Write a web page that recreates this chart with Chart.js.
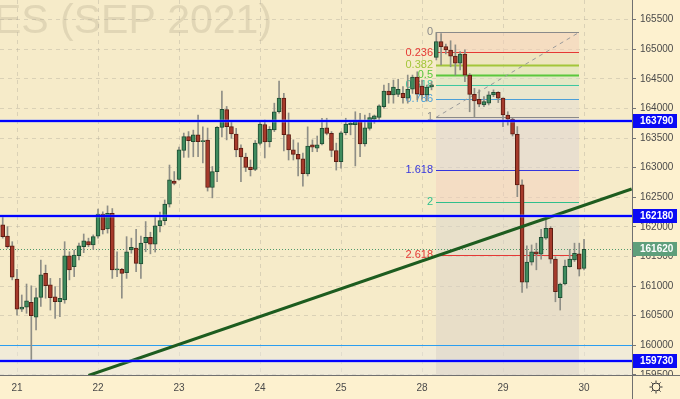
<!DOCTYPE html>
<html>
<head>
<meta charset="utf-8">
<script src="https://cdn.jsdelivr.net/npm/chart.js@4.4.0/dist/chart.umd.min.js"></script>
<style>
  html, body { margin: 0; padding: 0; background: #fdf1cf; }
  canvas { display: block; }
</style>
</head>
<body>
<canvas id="chart" width="680" height="399"></canvas>
<script>
// bar index of the first candle (day 21 starts at index 0, 17 bars per day)
const firstBar = -3;

const opens = [162035,161845,161680,161120,160610,160645,160725,160475,160810,161215,161020,160820,160735,160765,161510,161330,161515,161665,161750,161695,
  161845,162215,161965,162230,161275,161285,161225,161610,161640,161375,161735,161825,161710,162020,162105,162385,162775,162800,163290,163525,
  163440,163555,163440,163465,162665,162935,163680,163980,163695,163570,163330,163180,163010,162970,163410,163730,163440,163640,163945,164175,
  163560,163300,163225,163150,162895,163385,163330,163400,163675,163580,163290,163100,163590,163725,163725,163805,163400,163665,163820,163850,
  164030,164295,164230,164240,164255,164175,164325,164530,164380,164230,164365,164865,165130,165045,164985,164885,164765,164920,164565,164240,
  164155,164060,164090,164230,164275,164175,163890,163820,163565,162710,161065,161405,161580,161540,161810,161975,161455,160805,161035,161330,
  161440,161545,161300];
const highs = [162175,162005,161750,161285,160850,161035,161005,160965,161440,161355,161130,160990,161130,161750,161580,161610,161725,161880,161810,161865,
  162300,162255,162355,162310,161580,161300,161835,161810,161960,161845,162090,161910,162170,162250,162455,163045,162935,163350,163585,163610,
  163635,163890,163690,163670,163020,163695,164295,164035,163800,163665,163385,163245,163130,163460,163790,163805,163695,164090,164465,164255,
  163925,163470,163420,163245,163690,163470,163535,163835,163835,163610,163415,163610,163835,163790,163945,163920,163890,163920,163890,164060,
  164395,164425,164480,164495,164370,164565,164565,164620,164480,164395,164455,165285,165265,165090,165145,165075,164960,164990,164590,164340,
  164315,164200,164285,164315,164285,164180,163945,163850,163695,162795,161680,161695,161725,161960,162145,162005,161495,161050,161440,161620,
  161725,161725,161790];
const lows = [161810,161640,161105,160515,160570,160540,159740,160260,160655,160795,160595,160455,160485,160710,161105,161160,161440,161565,161665,161620,
  161810,161880,161895,161130,161160,160795,161130,161555,161245,161130,161580,161545,161575,161915,162035,162335,162710,162790,163175,163175,
  163185,163185,163080,162605,162490,162765,163520,163470,163495,163185,162765,162935,162860,162950,163385,163165,163350,163610,163920,163285,
  163130,163130,162860,162690,162860,163270,163270,163385,163555,163185,162960,162990,163555,163555,163030,163185,163365,163635,163750,163780,
  164005,164090,164090,164200,164090,164090,164255,164145,164160,164125,164315,164820,164735,164920,164705,164565,164650,164455,163945,163850,
  164030,164030,164060,164200,164100,163695,163720,163535,162510,160895,160965,161355,161275,161455,161790,161385,160735,160595,161020,161320,
  161415,161170,161275];
const closes = [161835,161665,161150,160610,160645,160750,160500,160805,161190,161005,160805,160735,160795,161510,161275,161525,161680,161765,161695,161835,
  162215,161950,162230,161275,161285,161215,161580,161655,161385,161725,161825,161710,162020,162105,162385,162795,162735,163300,163525,163455,
  163555,163440,163450,162665,162935,163680,163985,163695,163570,163300,163180,163005,162965,163415,163735,163435,163650,163945,164175,163560,
  163300,163225,163145,162900,163365,163345,163385,163665,163580,163290,163100,163590,163735,163750,163805,163400,163675,163845,163875,164045,
  164295,164230,164360,164325,164185,164325,164530,164245,164230,164360,164400,165130,165045,164990,164885,164765,164920,164565,164240,164130,
  164075,164115,164230,164275,164175,163890,163820,163565,162710,161065,161405,161580,161540,161825,161975,161455,160905,161035,161340,161455,
  161555,161285,161620];

const dayIdx = [0, 17, 34, 51, 68, 85, 102, 119];
const dayLabels = ['21', '22', '23', '24', '25', '28', '29', '30'];
const priceTicks = [159500, 160000, 160500, 161000, 161500, 162000, 162500, 163000, 163500, 164000, 164500, 165000, 165500];

const levelLines = [163790, 162180, 159730];
const lastPrice = 161620;
const zoneTop = 160000;

// trend line anchors [bar index, price]
const trendStart = [15, 159490];
const trendEnd = [129, 162640];

// fib retracement: anchors and levels
const fibFrom = 88, fibTo = 118;
const fibHigh = 165285, fibLow = 163850;
const fibLevels = [0, 0.236, 0.382, 0.5, 0.618, 0.786, 1, 1.618, 2, 2.618, 4.236];
const fibColors = ['#8a8a8a', '#e53935', '#a3c63a', '#5bc83c', '#3cc8a0', '#4a9fd8', '#8a8a8a', '#3535dd', '#2ebf8c', '#e53935'];
const fibBands = ['rgba(243,208,185,0.5)', 'rgba(229,223,182,0.5)', 'rgba(215,229,180,0.5)', 'rgba(209,229,196,0.5)',
  'rgba(219,225,212,0.5)', 'rgba(225,219,212,0.5)', 'rgba(219,211,214,0.5)', 'rgba(241,208,192,0.5)',
  'rgba(217,213,204,0.5)', 'rgba(217,209,200,0.5)'];

const watermark = 'ES (SEP 2021)';

const bodies = [], wicks = [], bodyFill = [], bodyLine = [];
for (let i = 0; i < opens.length; i++) {
  const x = firstBar + i;
  const up = closes[i] >= opens[i];
  bodies.push({ x: x, y: [opens[i], closes[i]] });
  wicks.push({ x: x, y: [lows[i], highs[i]] });
  bodyFill.push(up ? '#3f8b5e' : '#a63a2b');
  bodyLine.push(up ? '#1f4d33' : '#5c1c12');
}

const fibPrice = (lvl) => fibHigh - lvl * (fibHigh - fibLow);

const drawings = {
  id: 'drawings',
  beforeDraw(chart) {
    const { ctx, chartArea: a } = chart;
    ctx.save();
    ctx.fillStyle = '#fdf1cf';
    ctx.fillRect(0, 0, chart.width, chart.height);
    ctx.fillStyle = '#f6ebc9';
    ctx.fillRect(a.left, a.top, a.right - a.left, a.bottom - a.top);
    ctx.font = '41px "Liberation Sans"';
    ctx.fillStyle = 'rgba(150,140,115,0.22)';
    ctx.textBaseline = 'alphabetic';
    ctx.fillText(watermark, -6, 33);
    ctx.restore();
  },
  beforeDatasetsDraw(chart) {
    const { ctx, chartArea: a, scales: { x, y } } = chart;
    ctx.save();
    ctx.beginPath();
    ctx.rect(a.left, a.top, a.right - a.left, a.bottom - a.top);
    ctx.clip();

    // light zone below 160000
    const zy = y.getPixelForValue(zoneTop);
    ctx.fillStyle = 'rgba(236,236,236,0.45)';
    ctx.fillRect(a.left, zy, a.right - a.left, a.bottom - zy);

    // fib bands
    const fx0 = Math.round(x.getPixelForValue(fibFrom)), fx1 = Math.round(x.getPixelForValue(fibTo));
    for (let k = 0; k < fibBands.length; k++) {
      const yt = y.getPixelForValue(fibPrice(fibLevels[k]));
      const yb = y.getPixelForValue(fibPrice(fibLevels[k + 1]));
      ctx.fillStyle = fibBands[k];
      ctx.fillRect(fx0, yt, fx1 - fx0, yb - yt);
    }

    ctx.strokeStyle = '#2b9ef0';
    ctx.lineWidth = 1;
    ctx.beginPath();
    ctx.moveTo(a.left, Math.round(zy) + 0.5);
    ctx.lineTo(a.right, Math.round(zy) + 0.5);
    ctx.stroke();

    // last price dotted line
    const ly = Math.round(y.getPixelForValue(lastPrice)) + 0.5;
    ctx.strokeStyle = '#4f9a6c';
    ctx.setLineDash([1, 2]);
    ctx.beginPath();
    ctx.moveTo(a.left, ly);
    ctx.lineTo(a.right, ly);
    ctx.stroke();
    ctx.setLineDash([]);

    // fib level lines
    for (let k = 0; k < fibColors.length; k++) {
      const py = Math.round(y.getPixelForValue(fibPrice(fibLevels[k]))) + 0.5;
      ctx.strokeStyle = fibColors[k];
      ctx.lineWidth = (fibLevels[k] === 0.382 || fibLevels[k] === 0.5) ? 2 : 1;
      ctx.beginPath();
      ctx.moveTo(fx0, py);
      ctx.lineTo(fx1, py);
      ctx.stroke();
    }
    // fib diagonal
    ctx.strokeStyle = '#9a9a9a';
    ctx.lineWidth = 1;
    ctx.setLineDash([4, 4]);
    ctx.beginPath();
    ctx.moveTo(fx0, y.getPixelForValue(fibLow));
    ctx.lineTo(fx1, y.getPixelForValue(fibHigh));
    ctx.stroke();
    ctx.setLineDash([]);
    ctx.restore();

    // fib labels
    ctx.save();
    ctx.font = '11px "Liberation Sans"';
    ctx.textAlign = 'right';
    ctx.textBaseline = 'middle';
    for (let k = 0; k < fibColors.length; k++) {
      ctx.fillStyle = fibColors[k];
      ctx.fillText(String(fibLevels[k]), fx0 - 3, y.getPixelForValue(fibPrice(fibLevels[k])));
    }
    ctx.restore();
  },
  afterDatasetsDraw(chart) {
    const { ctx, chartArea: a, scales: { y } } = chart;
    ctx.save();
    for (const lv of levelLines) {
      const py = Math.round(y.getPixelForValue(lv));
      ctx.fillStyle = 'rgba(120,140,255,0.35)';
      ctx.fillRect(a.left, py - 2, a.right - a.left, 4);
      ctx.fillStyle = '#0000ff';
      ctx.fillRect(a.left, py - 1, a.right - a.left, 2);
    }
    ctx.restore();
  },
  afterDraw(chart) {
    const { ctx, chartArea: a, scales: { y } } = chart;
    ctx.save();
    // clip price labels under the time axis
    ctx.fillStyle = '#fdf1cf';
    ctx.fillRect(a.right + 1, a.bottom + 1, chart.width - a.right, chart.height - a.bottom);
    ctx.strokeStyle = '#707070';
    ctx.lineWidth = 1;
    ctx.beginPath();
    ctx.moveTo(0, Math.round(a.bottom) + 0.5);
    ctx.lineTo(chart.width, Math.round(a.bottom) + 0.5);
    ctx.moveTo(Math.round(a.right) + 0.5, 0);
    ctx.lineTo(Math.round(a.right) + 0.5, chart.height);
    ctx.stroke();

    const box = (price, color) => {
      const py = Math.round(y.getPixelForValue(price));
      ctx.fillStyle = color;
      ctx.fillRect(a.right + 1, py - 7, 44, 14);
      ctx.fillStyle = '#ffffff';
      ctx.font = 'bold 10px "Liberation Sans"';
      ctx.textAlign = 'left';
      ctx.textBaseline = 'middle';
      ctx.fillText(String(price), a.right + 8, py + 0.5);
    };
    levelLines.forEach(p => box(p, '#0a0af5'));
    box(lastPrice, '#5e9f7b');

    // settings icon
    const gx = 656, gy = 387;
    ctx.strokeStyle = '#333';
    ctx.lineWidth = 1;
    ctx.beginPath();
    ctx.arc(gx, gy, 4, 0, Math.PI * 2);
    ctx.stroke();
    for (let k = 0; k < 8; k++) {
      const t = k * Math.PI / 4;
      ctx.beginPath();
      ctx.moveTo(gx + Math.cos(t) * 4.5, gy + Math.sin(t) * 4.5);
      ctx.lineTo(gx + Math.cos(t) * 6.5, gy + Math.sin(t) * 6.5);
      ctx.stroke();
    }
    ctx.restore();
  }
};

new Chart(document.getElementById('chart').getContext('2d'), {
  type: 'bar',
  data: {
    datasets: [
      {
        type: 'line',
        data: [{ x: trendStart[0], y: trendStart[1] }, { x: trendEnd[0], y: trendEnd[1] }],
        borderColor: '#1d5c1f',
        borderWidth: 3,
        pointRadius: 0,
        tension: 0
      },
      {
        data: bodies,
        backgroundColor: bodyFill,
        borderColor: bodyLine,
        borderWidth: 1,
        borderSkipped: false,
        barThickness: 4,
        minBarLength: 1,
        grouped: false
      },
      {
        data: wicks,
        backgroundColor: '#8e8e86',
        borderWidth: 0,
        barThickness: 1,
        grouped: false
      }
    ]
  },
  options: {
    responsive: false,
    animation: false,
    devicePixelRatio: 1,
    events: [],
    layout: { padding: 0 },
    plugins: {
      legend: { display: false },
      tooltip: { enabled: false }
    },
    scales: {
      x: {
        type: 'linear',
        min: -3.57,
        max: 129.07,
        offset: false,
        afterFit(s) { s.height = 24; s.paddingLeft = 0; s.paddingRight = 0; },
        afterBuildTicks(s) { s.ticks = dayIdx.map(v => ({ value: v })); },
        ticks: {
          autoSkip: false,
          maxRotation: 0,
          padding: 3,
          color: '#4a4a4a',
          font: { family: 'Liberation Sans', size: 10 },
          callback: (v) => dayLabels[dayIdx.indexOf(v)]
        },
        grid: { color: 'rgba(165,160,145,0.35)', tickColor: 'rgba(0,0,0,0)', tickLength: 4, offset: false },
        border: { display: false, dash: [4, 4] }
      },
      y: {
        position: 'right',
        min: 159498,
        max: 165833,
        beginAtZero: false,
        afterFit(s) { s.width = 48; s.paddingTop = 0; s.paddingBottom = 0; },
        afterBuildTicks(s) { s.ticks = priceTicks.map(v => ({ value: v })); },
        ticks: {
          padding: 4,
          color: '#4a4a4a',
          font: { family: 'Liberation Sans', size: 10 },
          callback: (v) => String(v)
        },
        grid: { color: 'rgba(165,160,145,0.35)', tickColor: '#777', tickLength: 4 },
        border: { display: false, dash: [4, 4] }
      }
    }
  },
  plugins: [drawings]
});
</script>
</body>
</html>
